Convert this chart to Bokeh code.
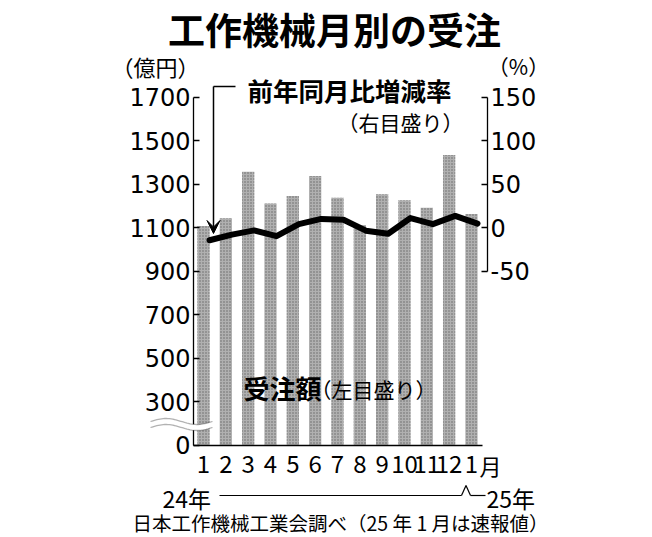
import numpy as np
from bokeh.plotting import figure
from bokeh.models import (Range1d, LinearAxis, FixedTicker, Label, Arrow,
                          VeeHead, PolyAnnotation, ColumnDataSource)
from bokeh.embed import file_html
from bokeh.resources import INLINE

# ---- data ----
months = list(range(1, 14))
month_labels = ["1", "2", "3", "4", "5", "6", "7", "8", "9", "10", "11", "12", "1"]
orders = [1108, 1143, 1357, 1211, 1246, 1338, 1238, 1112, 1254, 1226, 1192, 1434, 1163]
yoy = [-14.5, -8.0, -3.2, -9.8, 4.0, 10.0, 9.0, -3.5, -7.0, 11.0, 4.0, 13.5, 4.6]
left_ticks = [100, 300, 500, 700, 900, 1100, 1300, 1500, 1700]
left_tick_labels = {100: "0"}
right_ticks = [-50, 0, 50, 100, 150]
right_tick_labels = {-50: "-50"}

# ---- layout: frame covers the whole canvas; axes sit at fixed locations ----
W, H = 644, 536
XPX = 22.33            # px per month
X_REF_PX = 203.0       # px of month 1
YPX = 347.8 / 1600.0   # px per order unit
Y_REF_PX = 96.7        # px of 1700

def px2x(px):
    return 1 + (px - X_REF_PX) / XPX

def py2y(py):
    return 1700 - (py - Y_REF_PX) / YPX

X0, X1 = px2x(0), px2x(W)
Y0, Y1 = py2y(H), py2y(0)

p = figure(width=W, height=H, output_backend="svg", toolbar_location=None,
           x_range=Range1d(X0, X1), y_range=Range1d(Y0, Y1),
           min_border=0, min_border_left=0, min_border_right=0,
           min_border_top=0, min_border_bottom=0,
           x_axis_location=None, y_axis_location=None)
p.outline_line_color = None
p.xgrid.visible = False
p.ygrid.visible = False
p.background_fill_color = "white"
p.border_fill_color = "white"

p.extra_y_ranges = {"pct": Range1d((Y0 - 1100) / 4, (Y1 - 1100) / 4)}

# bars
src = ColumnDataSource(dict(x=months, top=orders))
p.vbar(x="x", top="top", bottom=100, width=0.55, source=src,
       fill_color="#b0b0b0", line_color=None,
       hatch_pattern="dot", hatch_scale=3, hatch_color="#666666", hatch_weight=1)

# yoy line
line_x = [m + 0.27 for m in months]
p.line(line_x, yoy, y_range_name="pct", line_color="black", line_width=6,
       line_join="round", line_cap="round")

# axes
ax = LinearAxis(ticker=FixedTicker(ticks=months), fixed_location=100)
ax.major_label_overrides = {m: l for m, l in zip(months, month_labels)}
ax.major_tick_in = 0
ax.major_tick_out = 0
ax.minor_tick_line_color = None
ax.bounds = (px2x(193), px2x(482))
ax.axis_line_color = "black"
ax.axis_line_width = 1.3
ax.major_label_text_font = "Noto Sans CJK JP"
ax.major_label_text_font_size = "24px"
ax.major_label_text_color = "black"
ax.major_label_standoff = 10
p.add_layout(ax, "below")

ay = LinearAxis(ticker=FixedTicker(ticks=left_ticks), fixed_location=px2x(193))
ay.major_label_overrides = left_tick_labels
ay.major_tick_in = 6
ay.major_tick_out = 0
ay.minor_tick_line_color = None
ay.bounds = (100, 1700)
ay.axis_line_width = 1.3
ay.major_tick_line_width = 1.3
ay.major_label_text_font = "DejaVu Sans"
ay.major_label_text_font_size = "24px"
ay.major_label_text_color = "black"
ay.major_label_standoff = 3
p.add_layout(ay, "left")

ar = LinearAxis(y_range_name="pct", ticker=FixedTicker(ticks=right_ticks),
                fixed_location=px2x(487))
ar.major_label_overrides = right_tick_labels
ar.major_tick_in = 6
ar.major_tick_out = 0
ar.minor_tick_line_color = None
ar.bounds = (-50, 150)
ar.axis_line_width = 1.3
ar.major_tick_line_width = 1.3
ar.major_label_text_font = "DejaVu Sans"
ar.major_label_text_font_size = "24px"
ar.major_label_text_color = "black"
ar.major_label_standoff = 3
p.add_layout(ar, "right")

JP = "Noto Sans CJK JP"

def label(px, py, text, size, align="left", bold=False, font=JP):
    p.add_layout(Label(x=px2x(px), y=py2y(py), text=text, text_font=font,
                       text_font_size=f"{size}px", text_align=align,
                       text_baseline="middle", text_color="black",
                       text_font_style="bold" if bold else "normal"))

label(334, 28, "工作機械月別の受注", 37, align="center", bold=True)
label(111, 65, "（億円）", 22)
label(518, 65, "（%）", 21, align="center")
label(247, 89, "前年同月比増減率", 25.5, bold=True)
label(463, 121, "（右目盛り）", 21, align="right")
label(243, 387, "受注額", 26, bold=True)
label(310, 388, "（左目盛り）", 21)
label(479, 464, "月", 22)
label(162, 497, "24年", 23)
label(486, 497, "25年", 23)
label(132, 522, "日本工作機械工業会調べ（25 年 1 月は速報値）", 19.5)

# arrow from the line label to the line
p.add_layout(Arrow(x_start=px2x(235), y_start=py2y(86), x_end=px2x(213), y_end=py2y(86),
                   end=None, line_width=1.5, line_color="black"))
p.add_layout(Arrow(x_start=px2x(213), y_start=py2y(86), x_end=px2x(213), y_end=py2y(233),
                   end=VeeHead(size=13, fill_color="black", line_color="black"),
                   line_width=1.5, line_color="black"))

# year bracket line
seg = [(219, 495, 461, 495), (461, 495, 465.5, 485), (465.5, 485, 470, 495), (470, 495, 485, 495)]
for a, b, c, d in seg:
    p.add_layout(Arrow(x_start=px2x(a), y_start=py2y(b), x_end=px2x(c), y_end=py2y(d),
                       end=None, line_width=1.2, line_color="black"))

# axis break
wx = np.linspace(150, 212, 40)
wu = 421 - 3 * np.sin(2 * np.pi * (wx - 150) / 62)
wl = wu + 6
xs_band = [px2x(v) for v in np.concatenate([wx, wx[::-1]])]
ys_band = [py2y(v) for v in np.concatenate([wu, wl[::-1]])]
p.add_layout(PolyAnnotation(xs=xs_band, ys=ys_band, fill_color="white", fill_alpha=1,
                            line_color=None))
for wv in (wu, wl):
    p.add_layout(PolyAnnotation(xs=[px2x(v) for v in np.concatenate([wx, wx[::-1]])],
                                ys=[py2y(v) for v in np.concatenate([wv, wv[::-1]])],
                                fill_alpha=0, line_color="black", line_width=1.3))

open("out.html", "w").write(file_html(p, INLINE))
